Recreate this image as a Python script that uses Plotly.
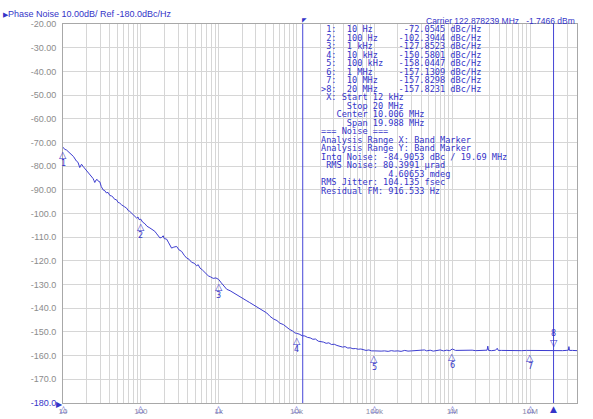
import numpy as np
import plotly.graph_objects as go

# ---------------- data ----------------
freq_hz = [
    10, 10.5, 11.1, 11.8, 12.8, 13.6, 14.9, 15.6, 16.4, 17.3, 18.1, 19.0, 20.0, 21.0, 22.4, 23.5,
    24.3, 25.0, 25.6, 26.5, 27.4, 28.5, 29.7, 31.0, 32.7, 34.5, 36.0, 37.9, 40.0, 42.0, 44.0, 46.0,
    48.6, 51.0, 53.5, 56.4, 59.0, 62.0, 65.5, 69.0, 72.0, 75.9, 80.0, 84.0, 88.1, 92.0, 95.0, 100,
    105, 112.6, 120, 130.6, 140, 151, 160, 168, 175.6, 185, 193.6, 200, 214, 228, 248, 265, 288,
    310, 334, 360, 387, 415, 449, 485, 521, 545, 574, 620, 680, 734, 790, 850, 920, 1000,
    1080, 1170, 1268, 1400, 1550, 1700, 1879, 2050, 2250, 2500, 2788, 3050, 3350, 3700, 4145,
    4550, 5050, 5600, 6100, 6780, 7400, 8100, 8900, 9500, 10000,
    10800, 11800, 12800, 13800, 14960, 16200, 17500, 19000, 20600, 22180, 24000, 26000, 28000,
    30500, 33000, 36000, 39000, 42000, 45500, 49000, 53000, 57000, 62000, 67000, 72600, 78000,
    85000, 92000, 100000, 110000, 122000, 135000, 150000, 165000, 180000, 200000, 220000,
    245000, 270000, 300000, 330000, 360000, 400000, 440000, 470000, 520000, 570000, 630000,
    700000, 770000, 850000, 930000, 1000000, 1100000, 1250000, 1400000, 1600000, 1800000,
    2000000, 2300000, 2600000, 2800000, 2860000, 2920000, 3200000, 3600000, 3780000, 3900000,
    4300000, 5000000, 5800000, 6700000, 7800000, 9000000, 10000000, 11500000, 13500000,
    16000000, 18000000, 20000000, 23000000, 26000000, 29000000, 31000000, 31500000, 32000000,
    35000000, 40000000,
]
phase_noise_dbc = [
    -72.0, -72.9, -73.2, -73.9, -75.0, -75.9, -77.9, -78.4, -80.6, -79.2, -80.1, -80.9, -82.0, -82.6, -83.9, -84.5,
    -85.2, -86.1, -86.9, -85.9, -85.6, -86.4, -86.6, -88.6, -90.0, -90.4, -91.3, -91.1, -92.4, -92.6, -93.1, -94.0,
    -94.2, -95.3, -95.6, -96.3, -96.9, -97.2, -97.7, -98.8, -99.1, -99.8, -100.6, -101.3, -101.9, -101.5, -102.6, -102.4,
    -103.6, -104.3, -105.4, -106.1, -106.9, -107.5, -108.6, -109.3, -110.3, -110.1, -109.4, -110.6, -110.8, -112.4, -114.6, -114.2, -113.9,
    -115.4, -116.0, -117.6, -118.8, -119.3, -120.6, -121.0, -122.1, -121.6, -123.0, -123.9, -125.2, -126.3, -126.8, -127.4, -127.2, -127.85,
    -129.3, -130.8, -132.0, -132.6, -133.4, -134.3, -135.0, -135.9, -136.7, -137.6, -138.5, -139.4, -140.1, -141.0, -142.0,
    -143.4, -144.5, -145.2, -146.3, -146.9, -148.0, -148.9, -149.6, -150.4, -150.6,
    -150.9, -151.6, -151.7, -152.3, -152.5, -153.1, -153.0, -153.9, -154.0, -154.3, -154.8, -154.6, -155.3,
    -155.2, -155.7, -156.0, -156.4, -156.2, -156.8, -156.7, -157.1, -157.0, -157.3, -157.2, -157.4, -157.8,
    -157.6, -158.0, -158.0, -157.9, -158.1, -158.0, -158.2, -157.9, -158.1, -158.0, -158.2,
    -157.8, -158.1, -158.0, -157.9, -158.1, -158.0, -157.6, -158.0, -157.7, -158.1, -157.8,
    -157.6, -158.0, -157.7, -157.9, -157.2, -157.8, -157.7, -157.9, -157.8, -157.7,
    -157.9, -157.8, -157.8, -157.7, -156.0, -157.8, -157.9, -157.7, -156.9, -157.8,
    -157.8, -157.9, -157.8, -157.8, -157.9, -157.8, -157.83, -157.8, -157.9,
    -157.8, -157.8, -157.82, -157.8, -157.9, -157.8, -157.7, -156.2, -157.8,
    -157.8, -157.9,
]

marker_ids = [1, 2, 3, 4, 5, 6, 7, 8]
marker_freq_hz = [10, 100, 1e3, 1e4, 1e5, 1e6, 1e7, 2e7]
marker_dbc = [-72.0545, -102.3944, -127.8523, -150.5801, -158.0447, -157.1309, -157.8298, -157.8231]

band_start_hz = 12e3
band_stop_hz = 20e6

y_ticks = [-20, -30, -40, -50, -60, -70, -80, -90, -100, -110, -120, -130, -140, -150, -160, -170, -180]
y_tick_labels = ["-20.00", "-30.00", "-40.00", "-50.00", "-60.00", "-70.00", "-80.00", "-90.00",
                 "-100.0", "-110.0", "-120.0", "-130.0", "-140.0", "-150.0", "-160.0", "-170.0", "-180.0"]
x_decades = [10, 100, 1e3, 1e4, 1e5, 1e6, 1e7]
x_decade_labels = ["10", "100", "1k", "10k", "100k", "1M", "10M"]
x_max_hz = 40e6

header_left = "Phase Noise 10.00dB/ Ref -180.0dBc/Hz"
header_right = "Carrier 122.878239 MHz   -1.7466 dBm"

info_lines = [
    " 1:  10 Hz      -72.0545 dBc/Hz",
    " 2:  100 Hz    -102.3944 dBc/Hz",
    " 3:  1 kHz     -127.8523 dBc/Hz",
    " 4:  10 kHz    -150.5801 dBc/Hz",
    " 5:  100 kHz   -158.0447 dBc/Hz",
    " 6:  1 MHz     -157.1309 dBc/Hz",
    " 7:  10 MHz    -157.8298 dBc/Hz",
    ">8:  20 MHz    -157.8231 dBc/Hz",
    " X: Start 12 kHz",
    "     Stop 20 MHz",
    "   Center 10.006 MHz",
    "     Span 19.988 MHz",
    "=== Noise ===",
    "Analysis Range X: Band Marker",
    "Analysis Range Y: Band Marker",
    "Intg Noise: -84.9053 dBc / 19.69 MHz",
    " RMS Noise: 80.3991 µrad",
    "             4.60653 mdeg",
    "RMS Jitter: 104.135 fsec",
    "Residual FM: 916.533 Hz",
]

# ---------------- styling ----------------
BLUE = "#3434c8"
TRACE_BLUE = "#3c3cd0"
GRID = "#d6d6d6"
FRAME = "#a8a8a8"
W, H = 593, 419
ML, MR, MT, MB = 63, 16, 24, 16
plot_h = H - MT - MB

# grid positions (1..9 x decade)
grid_vals, grid_text = [], []
for k in range(1, 8):
    for m in range(1, 10):
        v = m * 10 ** k
        if v <= x_max_hz * 1.0001:
            grid_vals.append(v)
            if m == 1 and v in x_decades:
                grid_text.append(x_decade_labels[x_decades.index(v)])
            else:
                grid_text.append("")

y_text = [t if t != "-180.0" else f"<span style='color:{BLUE}'>{t}</span>" for t in y_tick_labels]

fig = go.Figure()
fig.add_trace(go.Scatter(x=freq_hz, y=phase_noise_dbc, mode="lines",
                         line=dict(color=TRACE_BLUE, width=1), hoverinfo="skip"))
for f in (band_start_hz, band_stop_hz):
    fig.add_trace(go.Scatter(x=[f, f], y=[y_ticks[-1], y_ticks[0]], mode="lines",
                             line=dict(color="#4646d8", width=1), hoverinfo="skip"))

ann = []
# markers 1..7: open triangle below point + number
for mid, f, v in zip(marker_ids, marker_freq_hz, marker_dbc):
    if mid != 8:
        ann.append(dict(x=np.log10(f), y=v, xref="x", yref="y", text="△", showarrow=False,
                        yanchor="top", yshift=0, font=dict(size=9.5, color=BLUE, family="DejaVu Sans")))
        ann.append(dict(x=np.log10(f), y=v, xref="x", yref="y", text=str(mid), showarrow=False,
                        yanchor="top", yshift=-10, font=dict(size=8, color=BLUE, family="DejaVu Sans")))
    else:
        ann.append(dict(x=np.log10(f), y=v, xref="x", yref="y", text="▽", showarrow=False,
                        yanchor="bottom", yshift=0, font=dict(size=9.5, color=BLUE, family="DejaVu Sans")))
        ann.append(dict(x=np.log10(f), y=v, xref="x", yref="y", text=str(mid), showarrow=False,
                        yanchor="bottom", yshift=10, font=dict(size=8, color=BLUE, family="DejaVu Sans")))
        ann.append(dict(x=np.log10(f), y=y_ticks[-1], xref="x", yref="y", text="▲", showarrow=False,
                        yanchor="top", yshift=1, font=dict(size=9, color=BLUE, family="DejaVu Sans")))

# decade triangles on bottom axis
for d in x_decades:
    ann.append(dict(x=np.log10(d), y=y_ticks[-1], xref="x", yref="y", text="△", showarrow=False,
                    yanchor="top", yshift=1, font=dict(size=9, color="#7070d0", family="DejaVu Sans")))

# reference level pointer
ann.append(dict(x=0, y=y_ticks[-1], xref="paper", yref="y", text="▶", showarrow=False,
                xanchor="right", yanchor="middle", xshift=2, font=dict(size=8, color=BLUE)))
# small flag at band start top
ann.append(dict(x=np.log10(band_start_hz), y=1, xref="x", yref="paper", text="◤", showarrow=False,
                xanchor="left", yanchor="bottom", xshift=-3, yshift=-2, font=dict(size=6, color=BLUE)))

# headers
ann.append(dict(x=0, y=1, xref="paper", yref="paper", xanchor="left", yanchor="middle",
                xshift=-ML + 1, yshift=10, showarrow=False,
                text="<span style='font-size:7px'>▶</span>" + header_left,
                font=dict(family="Liberation Sans", size=9, color=BLUE)))
ann.append(dict(x=1, y=1, xref="paper", yref="paper", xanchor="right", yanchor="middle",
                yshift=3, showarrow=False, text=header_right,
                font=dict(family="Liberation Sans", size=8.5, color=BLUE)))

# info block
x0_paper = (319 - ML) / (W - ML - MR)
for i, line in enumerate(info_lines):
    ypx = 29.3 + 8.5 * i
    ann.append(dict(x=x0_paper, y=(H - MB - ypx) / plot_h, xref="paper", yref="paper",
                    xanchor="left", yanchor="middle", showarrow=False,
                    text=line.replace(" ", "&nbsp;"),
                    font=dict(family="DejaVu Sans Mono", size=8.6, color=BLUE)))

fig.update_layout(
    width=W, height=H, margin=dict(l=ML, r=MR, t=MT, b=MB, autoexpand=False),
    paper_bgcolor="white", plot_bgcolor="white", showlegend=False,
    annotations=ann,
    xaxis=dict(type="log", range=[1, np.log10(x_max_hz)], tickmode="array", automargin=False,
               tickvals=grid_vals, ticktext=grid_text, showgrid=True, gridcolor=GRID, gridwidth=1,
               showline=True, mirror=True, linecolor=FRAME, zeroline=False, ticks="",
               tickfont=dict(family="Liberation Sans", size=8, color="#8c8ca8")),
    yaxis=dict(range=[y_ticks[-1], y_ticks[0]], tickmode="array", tickvals=y_ticks, ticktext=y_text,
               automargin=False,
               showgrid=True, gridcolor=GRID, gridwidth=1, showline=True, mirror=True,
               linecolor=FRAME, zeroline=False, ticks="outside", ticklen=4, tickcolor="rgba(0,0,0,0)",
               tickfont=dict(family="Liberation Sans", size=9, color="#8c8c8c")),
)

fig.write_html("out.html")
